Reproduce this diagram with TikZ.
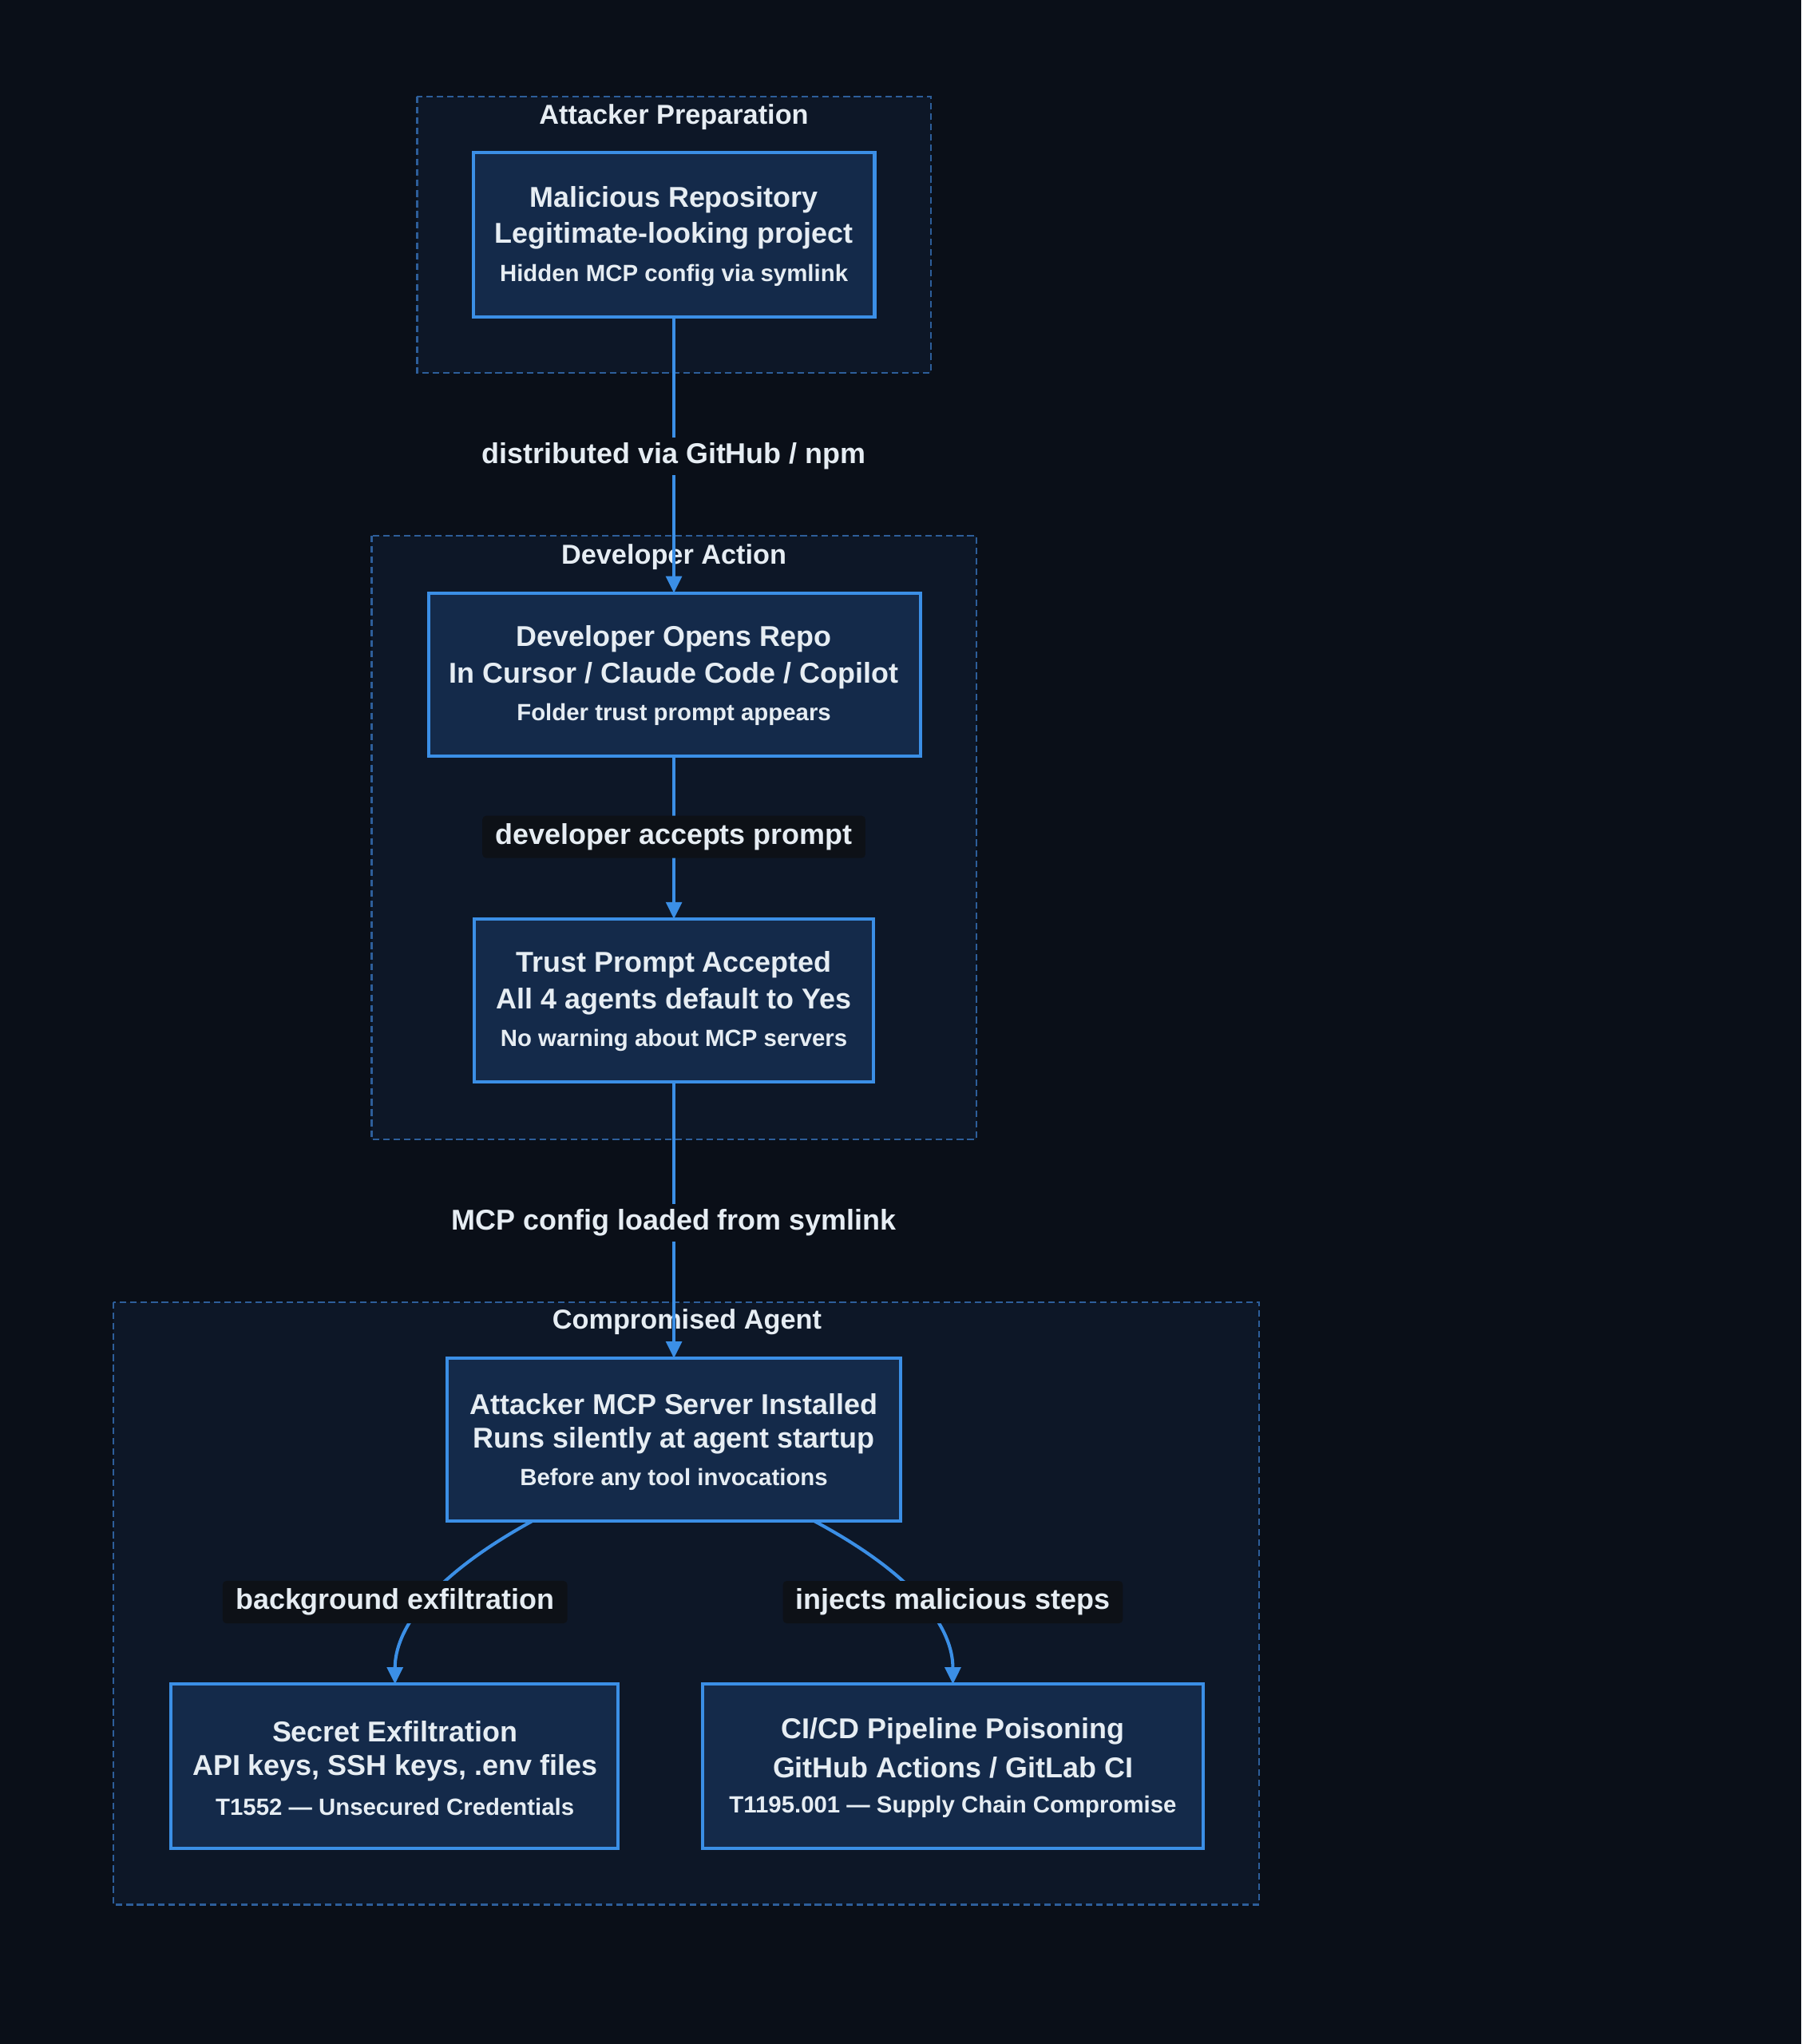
\documentclass[tikz,border=0pt]{standalone}
\usepackage{fontspec}
\setmainfont{Liberation Sans}
\usetikzlibrary{arrows.meta}
\definecolor{bg}{HTML}{0A0F18}
\definecolor{clfill}{HTML}{0D1727}
\definecolor{cldraw}{HTML}{2D5E9A}
\definecolor{nfill}{HTML}{142A4A}
\definecolor{ndraw}{HTML}{3B8FE6}
\definecolor{txt}{HTML}{E6EDF3}
\definecolor{lblbg}{HTML}{0D1117}
\begin{document}
\begin{tikzpicture}[x=1pt,y=-1pt,
  cluster/.style={draw=cldraw,fill=clfill,line width=1.5pt,dash pattern=on 5pt off 3pt},
  ctitle/.style={text=txt,font=\bfseries\fontsize{21}{24}\selectfont,yshift=-2pt},
  box/.style={draw=ndraw,fill=nfill,line width=2.5pt},
  big/.style={text=txt,font=\bfseries\fontsize{22}{26}\selectfont,yshift=-2pt},
  small/.style={text=txt,font=\bfseries\fontsize{18}{22}\selectfont,yshift=-2pt},
  edge/.style={draw=ndraw,line width=2.5pt},
  arr/.style={edge,-{Triangle[length=13pt,width=12pt]}},
  lbl/.style={text=txt,font=\bfseries\fontsize{22}{26}\selectfont,fill=bg,inner sep=4pt},
  lblb/.style={lbl,fill=lblbg,rounded corners=3pt,inner xsep=10pt,inner ysep=6pt}]
\fill[bg] (0,0) rectangle (1382,1568);
\useasboundingbox (0,0) rectangle (1382,1568);
% clusters
\draw[cluster] (320,74) rectangle (714,286);
\node[ctitle] (c1) at (517,88) {Attacker Preparation};
\draw[cluster] (285,411) rectangle (749,874);
\node[ctitle] (c2) at (517,425) {Developer Action};
\draw[cluster] (87,999) rectangle (966,1461);
\node[ctitle] (c3) at (527,1012) {Compromised Agent};
% nodes
\draw[box] (363,117) rectangle (671,243);
\node[big] (n1a) at (517,151) {Malicious Repository};
\node[big] (n1b) at (517,179) {Legitimate-looking project};
\node[small] (n1c) at (517,209) {Hidden MCP config via symlink};
\coordinate (n1s) at (517,243);
\draw[box] (329,455) rectangle (706,580);
\node[big] (n2a) at (517,488) {Developer Opens Repo};
\node[big] (n2b) at (517,516) {In Cursor / Claude Code / Copilot};
\node[small] (n2c) at (517,546) {Folder trust prompt appears};
\coordinate (n2n) at (517,455); \coordinate (n2s) at (517,580);
\draw[box] (364,705) rectangle (670,830);
\node[big] (n3a) at (517,738) {Trust Prompt Accepted};
\node[big] (n3b) at (517,766) {All 4 agents default to Yes};
\node[small] (n3c) at (517,796) {No warning about MCP servers};
\coordinate (n3n) at (517,705); \coordinate (n3s) at (517,830);
\draw[box] (343,1042) rectangle (691,1167);
\node[big] (n4a) at (517,1075) {Attacker MCP Server Installed};
\node[big] (n4b) at (517,1103) {Runs silently at agent startup};
\node[small] (n4c) at (517,1133) {Before any tool invocations};
\coordinate (n4n) at (517,1042); \coordinate (n4l) at (408,1167); \coordinate (n4r) at (625,1167);
\draw[box] (131,1292) rectangle (474,1418);
\node[big] (n5a) at (303,1326) {Secret Exfiltration};
\node[big] (n5b) at (303,1354) {API keys, SSH keys, .env files};
\node[small] (n5c) at (303,1384) {T1552 — Unsecured Credentials};
\coordinate (n5n) at (303,1292);
\draw[box] (539,1292) rectangle (923,1418);
\node[big] (n6a) at (731,1326) {CI/CD Pipeline Poisoning};
\node[big] (n6b) at (731,1354) {GitHub Actions / GitLab CI};
\node[small] (n6c) at (731,1384) {T1195.001 — Supply Chain Compromise};
\coordinate (n6n) at (731,1292);
% edges
\draw[arr] (n1s) -- (n2n);
\node[lbl,yshift=-2pt] (e1) at (517,348) {distributed via GitHub / npm};
\draw[arr] (n2s) -- (n3n);
\node[lblb] (e2) at (517,642) {developer accepts prompt};
\draw[arr] (n3s) -- (n4n);
\node[lbl,yshift=-2pt] (e3) at (517,936) {MCP config loaded from symlink};
\draw[arr] (n4l) .. controls (330,1210) and (303,1250) .. (n5n);
\node[lblb] (e4) at (303,1229) {background exfiltration};
\draw[arr] (n4r) .. controls (705,1210) and (731,1250) .. (n6n);
\node[lblb] (e5) at (731,1229) {injects malicious steps};
\end{tikzpicture}
\end{document}
